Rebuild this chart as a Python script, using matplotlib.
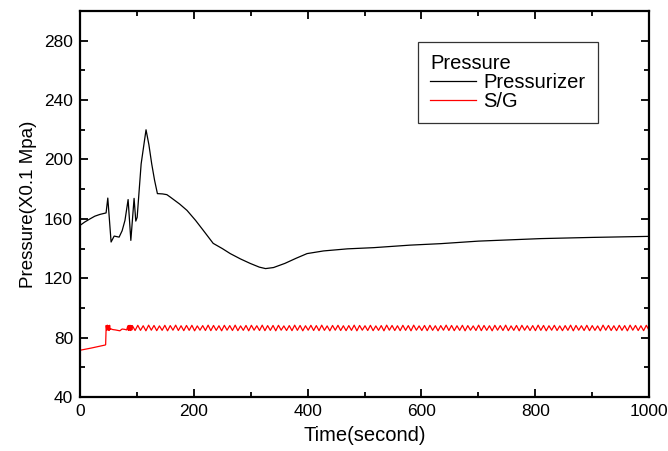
import numpy as np
import matplotlib
matplotlib.use('Agg')
import matplotlib.pyplot as plt
from matplotlib.ticker import MultipleLocator

plt.rcParams['font.family'] = ['Liberation Sans', 'DejaVu Sans']

# pressurizer pressure (X0.1 MPa)
pzr_time = [0, 8, 17.6, 26, 35, 45.8, 48.8, 54.6, 60, 68.7, 74, 79, 84.5, 89.3, 95, 98,
            100.4, 107.4, 116, 121, 126, 131, 136, 145, 152.6, 158.5, 175, 188,
            203, 216.5, 234, 250, 264, 282, 299, 315, 326, 340, 360, 380, 399,
            428, 470, 516, 580, 634, 700, 810, 900, 1000]
pzr_value = [155.6, 157.8, 160, 161.8, 163, 164, 174, 144.4, 148.4, 147.7, 152, 159, 173, 145.5,
             173.8, 158.5, 161, 197, 220, 210, 197, 186, 177, 176.8, 176.3, 174.7,
             170, 165.7, 159, 152.3, 143.5, 140, 136.6, 133, 130, 127.5, 126.5,
             127.2, 130, 133.5, 136.6, 138.4, 139.8, 140.6, 142.3, 143.3, 145,
             146.7, 147.5, 148.2]

# steam generator pressure, start-up part
sg_time_start = [0, 20, 44, 45, 46, 47, 48, 49, 50, 51, 52, 53, 54, 56, 58, 62,
                 66, 70, 74, 78, 82, 84, 85, 86, 87, 88, 89, 90, 91]
sg_value_start = [71.5, 73, 75, 75.2, 88.2, 85, 88.4, 85.2, 88, 84.8, 88.3, 85.5,
                  86, 85.6, 85.4, 85.2, 84.9, 84.6, 85.8, 85.6, 85.2, 87.9, 84.9,
                  88.2, 85.0, 88.3, 84.8, 88.1, 85.2]

# steam generator pressure, oscillating part (peaks and troughs after ~92 s)
sg_value_osc = [
    88.1, 84.8, 88.3, 84.9, 88.0, 84.6, 88.4, 85.0, 88.2, 84.7, 87.9, 84.9, 88.3, 84.6, 88.1, 85.0, 88.4, 84.8, 88.0, 84.7,
    88.2, 84.9, 88.3, 84.6, 87.9, 85.0, 88.1, 84.8, 88.4, 84.7, 88.2, 84.9, 88.0, 84.6, 88.3, 85.0, 88.1, 84.8, 88.4, 84.7,
    87.9, 84.9, 88.2, 84.6, 88.3, 85.0, 88.0, 84.8, 88.4, 84.7, 88.1, 84.9, 88.2, 84.6, 88.3, 85.0, 87.9, 84.8, 88.1, 84.7,
    88.4, 84.9, 88.2, 84.6, 88.0, 85.0, 88.3, 84.8, 88.1, 84.7, 88.4, 84.9, 87.9, 84.6, 88.2, 85.0, 88.3, 84.8, 88.0, 84.7,
    88.1, 84.9, 88.4, 84.6, 88.2, 85.0, 88.0, 84.8, 88.3, 84.7, 87.9, 84.9, 88.1, 84.6, 88.4, 85.0, 88.2, 84.8, 88.0, 84.7,
    88.3, 84.9, 88.1, 84.6, 88.4, 85.0, 87.9, 84.8, 88.2, 84.7, 88.3, 84.9, 88.0, 84.6, 88.1, 85.0, 88.4, 84.8, 88.2, 84.7,
    88.0, 84.9, 88.3, 84.6, 88.1, 85.0, 87.9, 84.8, 88.4, 84.7, 88.2, 84.9, 88.0, 84.6, 88.3, 85.0, 88.1, 84.8, 88.4, 84.7,
    87.9, 84.9, 88.2, 84.6, 88.3, 85.0, 88.0, 84.8, 88.1, 84.7, 88.4, 84.9, 88.2, 84.6, 88.0, 85.0, 88.3, 84.8, 87.9, 84.7,
    88.1, 84.9, 88.4, 84.6, 88.2, 85.0, 88.0, 84.8, 88.3, 84.7, 88.1, 84.9, 87.9, 84.6, 88.4, 85.0, 88.2, 84.8, 88.0, 84.7,
    88.3, 84.9, 88.1, 84.6, 88.4, 85.0, 88.2, 84.8, 88.0, 84.7, 88.3, 84.9,
]
sg_time_osc = np.linspace(92, 1000, len(sg_value_osc))

sg_time = list(sg_time_start) + list(sg_time_osc)
sg_value = sg_value_start + sg_value_osc

fig = plt.figure(figsize=(6.68, 4.51), dpi=100)
ax = fig.add_axes([0.1198, 0.1197, 0.8518, 0.8559])

ax.plot(pzr_time, pzr_value, color='black', lw=0.9, label='Pressurizer')
ax.plot(sg_time, sg_value, color='red', lw=0.9, label='S/G')

ax.set_xlim(0, 1000)
ax.set_ylim(40, 300)
ax.xaxis.set_major_locator(MultipleLocator(200))
ax.xaxis.set_minor_locator(MultipleLocator(100))
ax.yaxis.set_major_locator(MultipleLocator(40))
ax.yaxis.set_minor_locator(MultipleLocator(20))
ax.tick_params(which='both', direction='in', top=True, right=True,
               labeltop=False, labelright=False, width=1.3, labelsize=12.5, pad=5)
ax.tick_params(which='major', length=6)
ax.tick_params(which='minor', length=3.5)
for s in ax.spines.values():
    s.set_linewidth(1.6)

ax.set_xlabel('Time(second)', fontsize=14.5, labelpad=5)
ax.set_ylabel('Pressure(X0.1 Mpa)', fontsize=13.5, labelpad=5)

leg = ax.legend(title='Pressure', loc='upper left', bbox_to_anchor=(0.594, 0.92),
                borderaxespad=0, fontsize=14.5, title_fontsize=14.5, frameon=True,
                fancybox=False, edgecolor='black', handlelength=2.3, borderpad=0.6,
                labelspacing=0.0, handletextpad=0.35, alignment='left')
leg.get_frame().set_linewidth(0.9)

fig.savefig('out.png', dpi=100)
